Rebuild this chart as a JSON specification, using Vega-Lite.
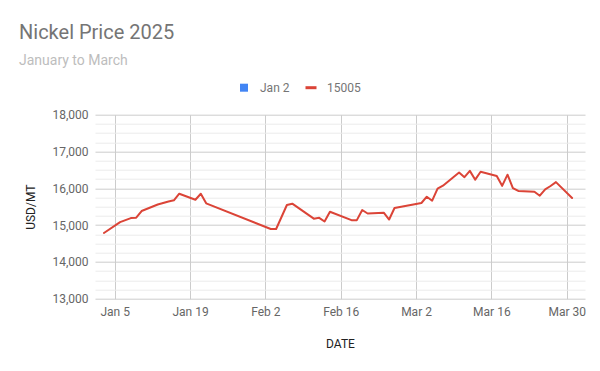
{
  "$schema": "https://vega.github.io/schema/vega-lite/v6.json",
  "autosize": {"type": "none"},
  "width": 490,
  "height": 184,
  "padding": {"left": 95, "top": 114.7, "right": 15, "bottom": 72.3},
  "background": "#ffffff",
  "config": {
    "font": "Roboto",
    "view": {"stroke": null},
    "axis": {"labelFont": "Roboto", "titleFont": "Roboto"}
  },
  "title": {
    "text": "Nickel Price 2025",
    "subtitle": "January to March",
    "anchor": "start",
    "frame": "group",
    "dx": -76,
    "offset": 14,
    "font": "Roboto",
    "fontSize": 20,
    "fontWeight": "normal",
    "color": "#757575",
    "subtitleFont": "Roboto",
    "subtitleFontSize": 14,
    "subtitleColor": "#bdbdbd",
    "subtitlePadding": 11
  },
  "data": {
    "values": [
      {"date": "2025-01-03", "price": 14785, "series": "15005"},
      {"date": "2025-01-06", "price": 15080, "series": "15005"},
      {"date": "2025-01-08", "price": 15190, "series": "15005"},
      {"date": "2025-01-09", "price": 15200, "series": "15005"},
      {"date": "2025-01-10", "price": 15383, "series": "15005"},
      {"date": "2025-01-13", "price": 15560, "series": "15005"},
      {"date": "2025-01-14", "price": 15600, "series": "15005"},
      {"date": "2025-01-15", "price": 15640, "series": "15005"},
      {"date": "2025-01-16", "price": 15673, "series": "15005"},
      {"date": "2025-01-17", "price": 15853, "series": "15005"},
      {"date": "2025-01-20", "price": 15690, "series": "15005"},
      {"date": "2025-01-21", "price": 15853, "series": "15005"},
      {"date": "2025-01-22", "price": 15592, "series": "15005"},
      {"date": "2025-02-03", "price": 14894, "series": "15005"},
      {"date": "2025-02-04", "price": 14894, "series": "15005"},
      {"date": "2025-02-05", "price": 15220, "series": "15005"},
      {"date": "2025-02-06", "price": 15546, "series": "15005"},
      {"date": "2025-02-07", "price": 15582, "series": "15005"},
      {"date": "2025-02-11", "price": 15175, "series": "15005"},
      {"date": "2025-02-12", "price": 15197, "series": "15005"},
      {"date": "2025-02-13", "price": 15097, "series": "15005"},
      {"date": "2025-02-14", "price": 15364, "series": "15005"},
      {"date": "2025-02-18", "price": 15135, "series": "15005"},
      {"date": "2025-02-19", "price": 15135, "series": "15005"},
      {"date": "2025-02-20", "price": 15410, "series": "15005"},
      {"date": "2025-02-21", "price": 15315, "series": "15005"},
      {"date": "2025-02-24", "price": 15337, "series": "15005"},
      {"date": "2025-02-25", "price": 15152, "series": "15005"},
      {"date": "2025-02-26", "price": 15465, "series": "15005"},
      {"date": "2025-03-03", "price": 15600, "series": "15005"},
      {"date": "2025-03-04", "price": 15772, "series": "15005"},
      {"date": "2025-03-05", "price": 15663, "series": "15005"},
      {"date": "2025-03-06", "price": 15990, "series": "15005"},
      {"date": "2025-03-07", "price": 16071, "series": "15005"},
      {"date": "2025-03-10", "price": 16430, "series": "15005"},
      {"date": "2025-03-11", "price": 16303, "series": "15005"},
      {"date": "2025-03-12", "price": 16474, "series": "15005"},
      {"date": "2025-03-13", "price": 16235, "series": "15005"},
      {"date": "2025-03-14", "price": 16451, "series": "15005"},
      {"date": "2025-03-17", "price": 16334, "series": "15005"},
      {"date": "2025-03-18", "price": 16067, "series": "15005"},
      {"date": "2025-03-19", "price": 16370, "series": "15005"},
      {"date": "2025-03-20", "price": 16008, "series": "15005"},
      {"date": "2025-03-21", "price": 15927, "series": "15005"},
      {"date": "2025-03-24", "price": 15908, "series": "15005"},
      {"date": "2025-03-25", "price": 15799, "series": "15005"},
      {"date": "2025-03-26", "price": 15973, "series": "15005"},
      {"date": "2025-03-27", "price": 16063, "series": "15005"},
      {"date": "2025-03-28", "price": 16167, "series": "15005"},
      {"date": "2025-03-31", "price": 15737, "series": "15005"}
    ]
  },
  "mark": {"type": "line", "strokeWidth": 2, "strokeJoin": "round", "strokeCap": "round"},
  "encoding": {
    "x": {
      "field": "date",
      "type": "temporal",
      "scale": {"type": "utc", "domain": ["2025-01-01T08:08:00Z", "2025-04-02T09:36:00Z"], "nice": false},
      "axis": {
        "title": "DATE",
        "titleFontSize": 12,
        "titleFontWeight": "normal",
        "titleColor": "#222222",
        "titlePadding": 21,
        "values": [
          {"year": 2025, "month": 1, "date": 5, "utc": true},
          {"year": 2025, "month": 1, "date": 19, "utc": true},
          {"year": 2025, "month": 2, "date": 2, "utc": true},
          {"year": 2025, "month": 2, "date": 16, "utc": true},
          {"year": 2025, "month": 3, "date": 2, "utc": true},
          {"year": 2025, "month": 3, "date": 16, "utc": true},
          {"year": 2025, "month": 3, "date": 30, "utc": true}
        ],
        "labelExpr": "utcFormat(datum.value, '%b') + ' ' + utcdate(datum.value)",
        "labelFontSize": 12,
        "labelColor": "#666666",
        "labelPadding": 8,
        "labelFlush": false,
        "ticks": false,
        "domain": false,
        "grid": true,
        "gridColor": "#cccccc",
        "gridWidth": 1
      }
    },
    "y": {
      "field": "price",
      "type": "quantitative",
      "scale": {"domain": [13000, 18000], "nice": false, "zero": false},
      "axis": {
        "title": "USD/MT",
        "titleFontSize": 12,
        "titleFontWeight": "normal",
        "titleColor": "#222222",
        "titlePadding": 14,
        "values": [13000, 13250, 13500, 13750, 14000, 14250, 14500, 14750, 15000, 15250, 15500, 15750, 16000, 16250, 16500, 16750, 17000, 17250, 17500, 17750, 18000],
        "labelExpr": "datum.value % 1000 === 0 ? format(datum.value, ',') : ''",
        "labelFontSize": 12,
        "labelColor": "#666666",
        "labelPadding": 7,
        "ticks": false,
        "domain": false,
        "grid": true,
        "gridColor": {"condition": {"test": "datum.value % 1000 === 0", "value": "#cccccc"}, "value": "#ebebeb"},
        "gridWidth": 1
      }
    },
    "color": {
      "field": "series",
      "type": "nominal",
      "scale": {"domain": ["Jan 2", "15005"], "range": ["#4285f4", "#db4437"]},
      "legend": {
        "title": null,
        "orient": "none",
        "direction": "horizontal",
        "legendX": 143,
        "legendY": -33,
        "labelFont": "Roboto",
        "labelFontSize": 12,
        "labelColor": "#757575",
        "labelOffset": 10,
        "columnPadding": 9,
        "symbolSize": 121,
        "encode": {
          "symbols": {
            "update": {
              "shape": {"signal": "datum.value === 'Jan 2' ? 'square' : 'stroke'"},
              "size": {"signal": "datum.value === 'Jan 2' ? 64 : 121"},
              "fill": {"signal": "datum.value === 'Jan 2' ? '#4285f4' : 'transparent'"},
              "stroke": {"signal": "datum.value === 'Jan 2' ? 'transparent' : '#db4437'"},
              "strokeWidth": {"signal": "datum.value === 'Jan 2' ? 0 : 3"}
            }
          }
        }
      }
    }
  }
}
